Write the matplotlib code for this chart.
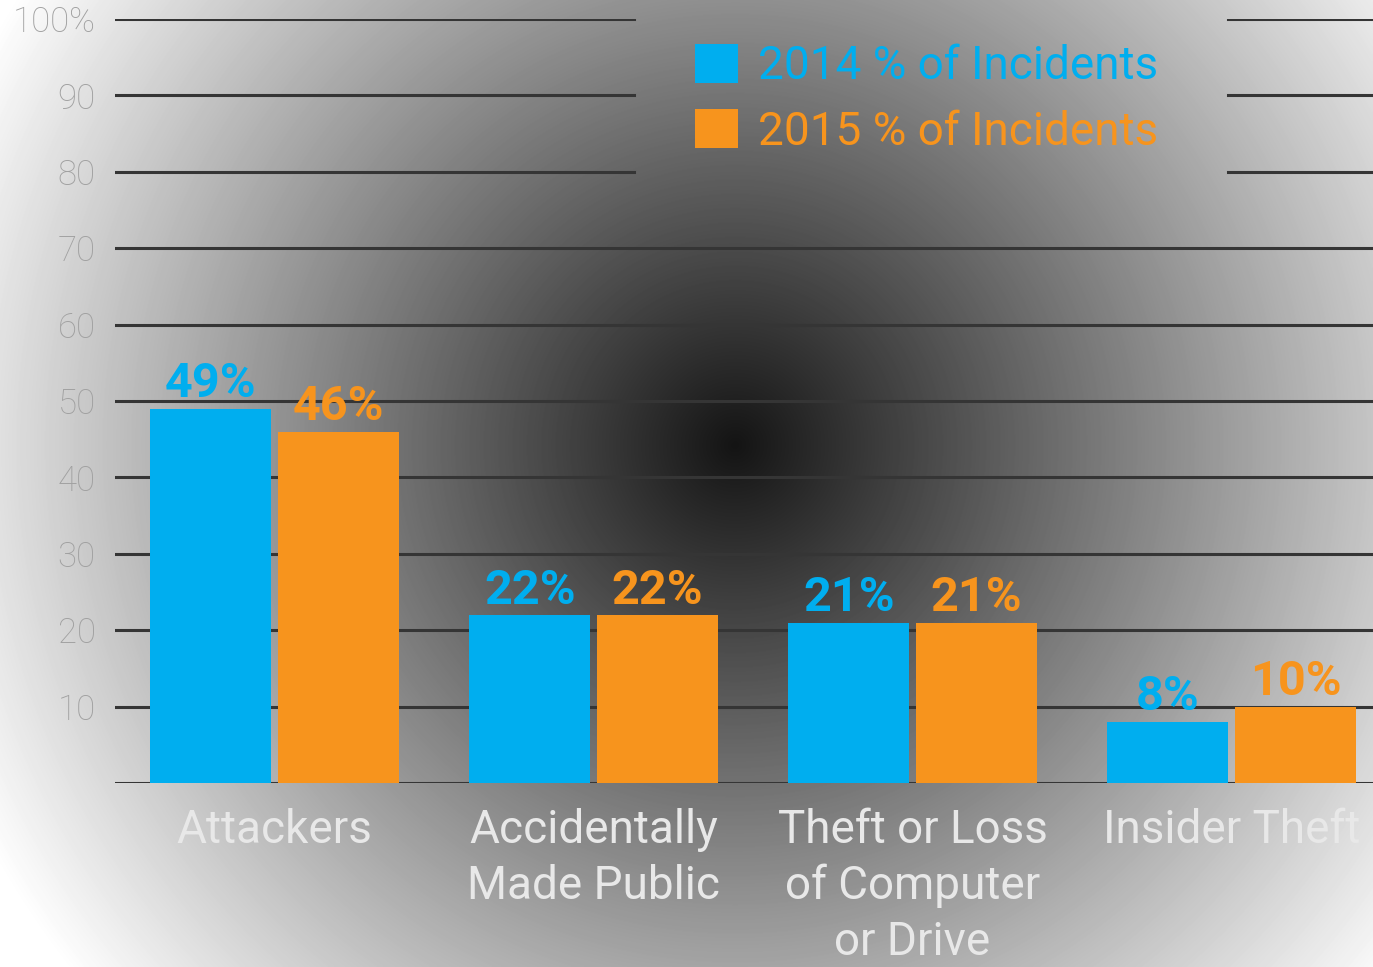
import numpy as np
import matplotlib.pyplot as plt

# data
categories = ['Attackers', 'Accidentally\nMade Public', 'Theft or Loss\nof Computer\nor Drive', 'Insider Theft']
pct_2014 = [49, 22, 21, 8]
pct_2015 = [46, 22, 21, 10]
series_names = ['2014 % of Incidents', '2015 % of Incidents']
y_ticks = [10, 20, 30, 40, 50, 60, 70, 80, 90, 100]
y_tick_labels = ['10', '20', '30', '40', '50', '60', '70', '80', '90', '100%']

blue = '#00aeef'
orange = '#f7941d'
plt.rcParams['font.family'] = ['Roboto', 'DejaVu Sans']

W, H = 1373, 967
fig = plt.figure(figsize=(W / 100, H / 100), dpi=100)

# radial gradient background, dark in the middle
bg = fig.add_axes([0, 0, 1, 1])
yy, xx = np.mgrid[0:H, 0:W]
dist = np.hypot(xx - 735, yy - 445)
shade = np.clip((20 + 0.277 * dist) / 255, 0, 1)
bg.imshow(shade, cmap='gray', vmin=0, vmax=1, aspect='auto', interpolation='bilinear')
bg.axis('off')

ax = fig.add_axes([115 / W, 184 / H, 1258 / W, 764 / H])
ax.patch.set_alpha(0)

x = np.arange(len(categories))
w = 0.38
b1 = ax.bar(x - 0.2, pct_2014, w, color=blue, zorder=3, label=series_names[0])
b2 = ax.bar(x + 0.2, pct_2015, w, color=orange, zorder=3, label=series_names[1])

ax.set_xlim(-0.5, 3.443)
ax.set_ylim(0, 100)

# grid lines, the top ones are cut where the legend sits
grid_kw = dict(color='#353535', lw=2.2, zorder=1)
for y in [0] + y_ticks:
    if y >= 80:
        ax.axhline(y, 0, 0.4126, **grid_kw)
        ax.axhline(y, 0.8847, 1, **grid_kw)
    else:
        ax.axhline(y, **grid_kw)

ax.bar_label(b1, labels=[f'{v}%' for v in pct_2014], padding=1, color=blue,
             fontsize=35, fontweight='bold')
ax.bar_label(b2, labels=[f'{v}%' for v in pct_2015], padding=1, color=orange,
             fontsize=35, fontweight='bold')

ax.set_yticks(y_ticks)
ax.set_yticklabels(y_tick_labels, fontsize=25, color='#a0a0a0', fontweight='light')
ax.set_xticks(x)
ax.set_xticklabels(categories, fontsize=33, color='#e8e8e8', fontweight='normal',
                   linespacing=1.33)
ax.tick_params(axis='y', length=0, pad=14)
ax.tick_params(axis='x', length=0, pad=18)
for s in ax.spines.values():
    s.set_visible(False)

leg = ax.legend(loc='upper left', bbox_to_anchor=(695 / W, 1 - 44 / H),
                bbox_transform=fig.transFigure, frameon=False,
                prop={'size': 33, 'weight': 'normal'},
                handlelength=0.93, handleheight=0.93, handletextpad=0.45,
                labelspacing=0.46, borderpad=0, borderaxespad=0)
for t, c in zip(leg.get_texts(), [blue, orange]):
    t.set_color(c)

fig.savefig('out.png', dpi=100)
